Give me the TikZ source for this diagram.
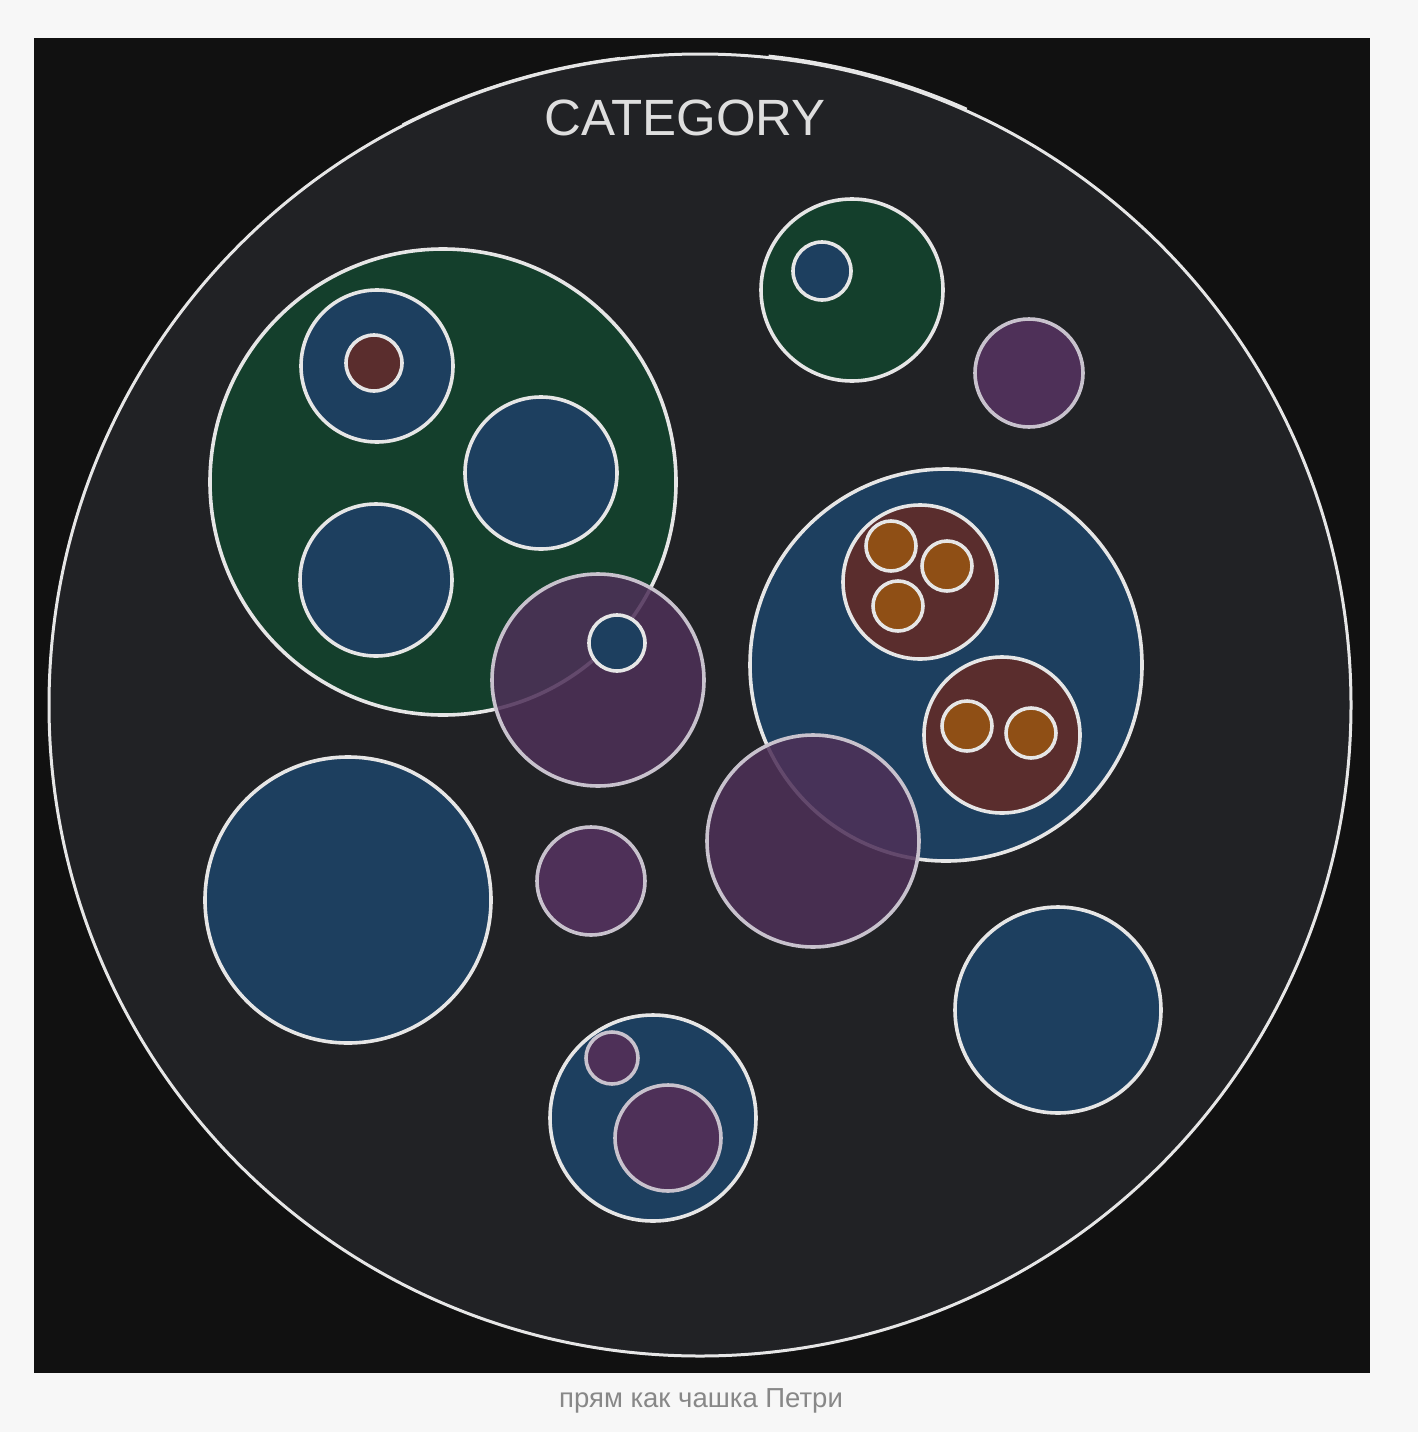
\documentclass[tikz,border=0pt]{standalone}
\usepackage{fontspec}
\setmainfont{Liberation Sans}
\definecolor{page}{HTML}{F7F7F7}
\definecolor{frame}{HTML}{111111}
\definecolor{dish}{HTML}{212225}
\definecolor{cgreen}{HTML}{143F2C}
\definecolor{cblue}{HTML}{1D3F5F}
\definecolor{cred}{HTML}{5A2D2D}
\definecolor{corange}{HTML}{8F4F15}
\definecolor{cpurple}{HTML}{4E3058}
\definecolor{chalk}{HTML}{E6E6E6}
\definecolor{lilac}{HTML}{C8C2CD}
\definecolor{caption}{HTML}{888888}

\begin{document}
\begin{tikzpicture}[x=1pt,y=-1pt,
  cell/.style={draw=chalk,line width=3.6pt},
  greencell/.style={cell,fill=cgreen},
  bluecell/.style={cell,fill=cblue},
  redcell/.style={cell,fill=cred},
  orangecell/.style={cell,fill=corange},
  purplecell/.style={cell,draw=lilac,fill=cpurple},
  glasscell/.style={purplecell,fill opacity=0.86}]
\useasboundingbox[fill=page] (0,0) rectangle (1418,1432);
\fill[frame] (34,38) rectangle (1370,1373);
% the dish
\path[cell,fill=dish,line width=3pt] (700,705) circle[radius=651pt];
\draw[chalk,line width=2pt] (700,708) ++(117:655pt) arc[start angle=117,end angle=97,radius=655pt];
\draw[chalk,line width=2pt] (700,708) ++(84:656pt) arc[start angle=84,end angle=66,radius=656pt];
\node[font=\fontsize{51}{60}\selectfont,text=chalk!92!gray] (title) at (685,118) {CATEGORY};
% big green colony
\path[greencell] (443,482) circle[radius=233pt];
\path[bluecell] (377,366) circle[radius=76pt];
\path[redcell] (374,363) circle[radius=28pt];
\path[bluecell] (541,473) circle[radius=76pt];
\path[bluecell] (376,580) circle[radius=76pt];
% small green colony
\path[greencell] (852,290) circle[radius=91pt];
\path[bluecell] (822,271) circle[radius=29pt];
\path[purplecell] (1029,373) circle[radius=54pt];
% big blue colony
\path[bluecell] (946,665) circle[radius=196pt];
\path[redcell] (920,582) circle[radius=77pt];
\foreach \cx/\cy in {891/546,947/566,898/606}
  \path[orangecell] (\cx,\cy) circle[radius=25pt];
\path[redcell] (1002,735) circle[radius=78pt];
\foreach \cx/\cy in {967/726,1031/733}
  \path[orangecell] (\cx,\cy) circle[radius=25pt];
% overlapping purple colonies
\path[glasscell] (598,680) circle[radius=106pt];
\path[bluecell] (617,643) circle[radius=28pt];
\path[glasscell] (813,841) circle[radius=106pt];
% loose colonies
\path[bluecell] (348,900) circle[radius=143pt];
\path[purplecell] (591,881) circle[radius=54pt];
\path[bluecell] (1058,1010) circle[radius=103pt];
\path[bluecell] (653,1118) circle[radius=103pt];
\path[purplecell] (612,1058) circle[radius=26pt];
\path[purplecell] (668,1138) circle[radius=53pt];
\node[font=\fontsize{27.5}{32}\selectfont,text=caption] (note) at (701,1401) {прям как чашка Петри};
\end{tikzpicture}
\end{document}
